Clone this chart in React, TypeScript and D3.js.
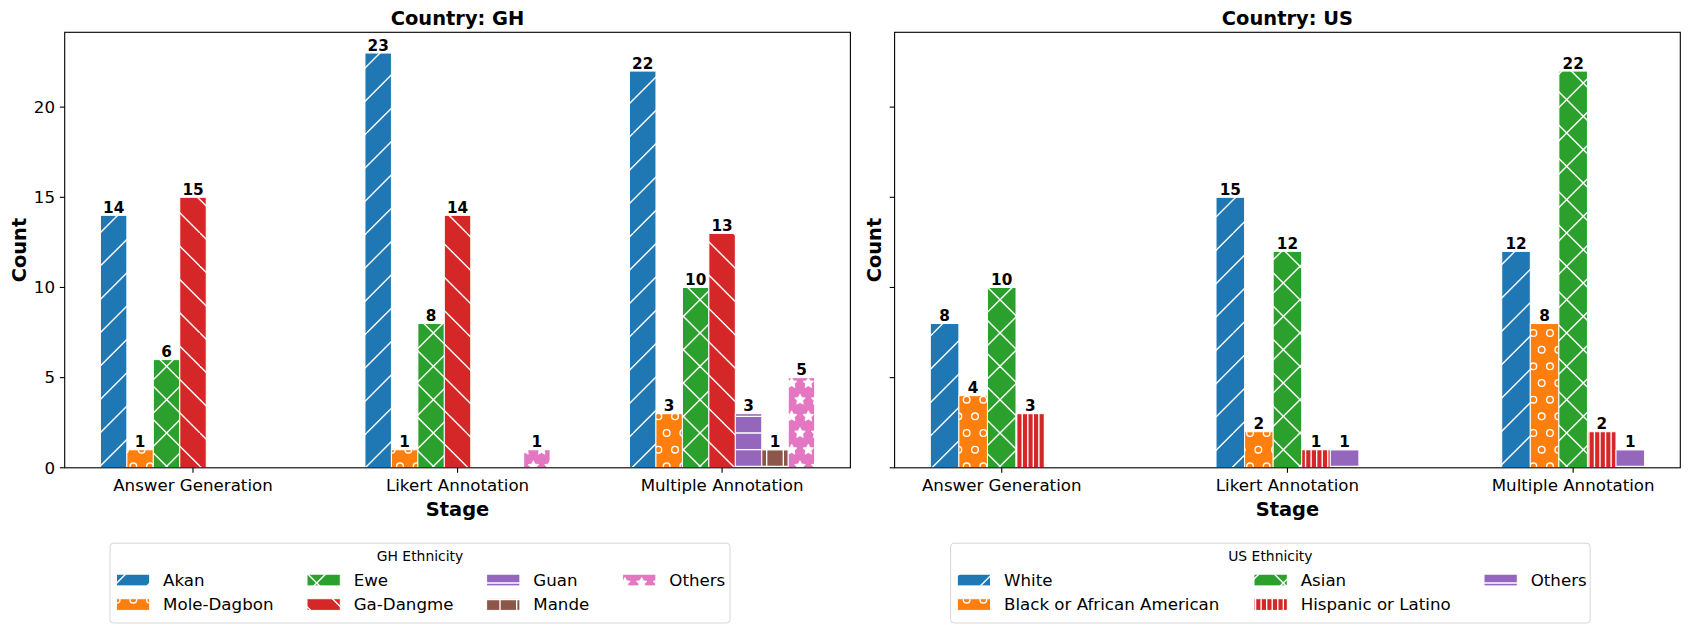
import React from 'react';
import * as d3 from 'd3';

// ---- data ----
const stages = ['Answer Generation', 'Likert Annotation', 'Multiple Annotation'];
const yTicks = [0, 5, 10, 15, 20];

const ghGroups = ['Akan', 'Mole-Dagbon', 'Ewe', 'Ga-Dangme', 'Guan', 'Mande', 'Others'];
const ghAkan = [14, 23, 22];
const ghMoleDagbon = [1, 1, 3];
const ghEwe = [6, 8, 10];
const ghGaDangme = [15, 14, 13];
const ghGuan = [0, 0, 3];
const ghMande = [0, 0, 1];
const ghOthers = [0, 1, 5];
const ghHatches = ['/', 'o', 'x', '\\', '-', '+', '*'];

const usGroups = ['White', 'Black or African American', 'Asian', 'Hispanic or Latino', 'Others'];
const usWhite = [8, 15, 12];
const usBlack = [4, 2, 8];
const usAsian = [10, 12, 22];
const usHispanic = [3, 1, 2];
const usOthers = [0, 1, 1];
const usHatches = ['/', 'o', 'x', '|||', '-'];

const tab10 = ['#1f77b4', '#ff7f0e', '#2ca02c', '#d62728', '#9467bd', '#8c564b', '#e377c2'];

const FONT = 'DejaVu Sans, sans-serif';
const W = 1690;
const H = 633;
const TOP = 32.3;
const BOTTOM = 467.8;
const BAR_W = 0.1;
const HATCH_LW = 1.39;
const FS = 16.67; // 12pt at 100 dpi

const hatchId = (h: string) =>
  'hatch-' + h.split('').map((c) => c.charCodeAt(0)).join('-');

// matplotlib style hatch tiles, 100px = 1 inch, white on transparent
function HatchPattern({ hatch }: { hatch: string }) {
  const els: React.ReactNode[] = [];
  const cnt = (c: string) => hatch.split('').filter((x) => x === c).length;
  const nNE = (cnt('/') + cnt('x')) * 6;
  const nSE = (cnt('\\') + cnt('x')) * 6;
  const nH = (cnt('-') + cnt('+')) * 6;
  const nV = (cnt('|') + cnt('+')) * 6;
  const nO = cnt('o') * 6;
  const nS = cnt('*') * 6;
  const line = (k: string, x1: number, y1: number, x2: number, y2: number) => (
    <line key={k} x1={x1} y1={y1} x2={x2} y2={y2} stroke="#fff" strokeWidth={HATCH_LW} />
  );
  if (nNE) {
    const step = 200 / nNE;
    for (let x0 = -100; x0 <= 100; x0 += step) els.push(line('ne' + x0, x0, 100, x0 + 100, 0));
  }
  if (nSE) {
    const step = 200 / nSE;
    for (let x0 = -100; x0 <= 100; x0 += step) els.push(line('se' + x0, x0, 0, x0 + 100, 100));
  }
  if (nH) {
    for (let i = 0; i <= nH; i++) els.push(line('h' + i, 0, (i * 100) / nH, 100, (i * 100) / nH));
  }
  if (nV) {
    for (let i = 0; i <= nV; i++) els.push(line('v' + i, (i * 100) / nV, 0, (i * 100) / nV, 100));
  }
  const shapes = (n: number, draw: (k: string, cx: number, cy: number) => React.ReactNode) => {
    const off = 100 / n;
    for (let r = 0; r <= n; r++) {
      const cy = r * off;
      if (r % 2 === 0) {
        for (let c = 0; c <= n; c++) els.push(draw(`${r}-${c}`, c * off, cy));
      } else {
        for (let c = 0; c < n; c++) els.push(draw(`${r}-${c}`, off / 2 + c * off, cy));
      }
    }
  };
  if (nO) {
    const rad = (100 / nO) * 0.2;
    shapes(nO, (k, cx, cy) => (
      <circle key={'o' + k} cx={cx} cy={cy} r={rad} fill="none" stroke="#fff" strokeWidth={HATCH_LW} />
    ));
  }
  if (nS) {
    const rad = (100 / nS) / 3;
    const pts: [number, number][] = d3.range(10).map((i) => {
      const a = (Math.PI / 5) * i - Math.PI / 2;
      const rr = i % 2 === 0 ? rad : rad * 0.5;
      return [rr * Math.cos(a), rr * Math.sin(a)];
    });
    shapes(nS, (k, cx, cy) => (
      <polygon
        key={'s' + k}
        points={pts.map(([x, y]) => `${cx + x},${cy + y}`).join(' ')}
        fill="#fff"
        stroke="#fff"
        strokeWidth={HATCH_LW * 0.6}
      />
    ));
  }
  return (
    <pattern id={hatchId(hatch)} patternUnits="userSpaceOnUse" x={0} y={H % 100} width={100} height={100}>
      {els}
    </pattern>
  );
}

interface LegendSpec {
  title: string;
  x: number;
  width: number;
  colX: number[];
  ncol: number;
}

interface PanelProps {
  title: string;
  left: number;
  right: number;
  groups: string[];
  series: number[][];
  colors: string[];
  hatches: string[];
  yLabels: boolean;
  countX: number;
  legend: LegendSpec;
}

function Panel({ title, left, right, groups, series, colors, hatches, yLabels, countX, legend }: PanelProps) {
  const n = groups.length;
  const offs = groups.map((_, i) => (i - (n - 1) / 2) * BAR_W);
  const lo = offs[0] - BAR_W / 2;
  const hi = stages.length - 1 + offs[n - 1] + BAR_W / 2;
  const pad = (hi - lo) * 0.05;
  const x = d3.scaleLinear().domain([lo - pad, hi + pad]).range([left, right]);
  // y axis is shared between both panels: tallest bar is 23
  const y = d3.scaleLinear().domain([0, 23 * 1.05]).range([BOTTOM, TOP]);
  const cx = (left + right) / 2;

  const rows = Math.ceil(n / legend.ncol);
  const legTop = 543.2;
  const legBottom = 623;
  const rowY = [580, 604.5];

  return (
    <g fontFamily={FONT}>
      {/* bars */}
      {series.map((vals, gi) =>
        vals.map((v, si) => {
          if (v <= 0) return null;
          const x0 = x(si + offs[gi] - BAR_W / 2);
          const x1 = x(si + offs[gi] + BAR_W / 2);
          const yt = y(v);
          return (
            <g key={`${gi}-${si}`}>
              <rect x={x0} y={yt} width={x1 - x0} height={BOTTOM - yt} fill={colors[gi]} />
              <rect x={x0} y={yt} width={x1 - x0} height={BOTTOM - yt} fill={`url(#${hatchId(hatches[gi])})`} stroke="#fff" strokeWidth={1} />
              <text
                x={(x0 + x1) / 2}
                y={yt - 2.5}
                textAnchor="middle"
                fontSize={15.28}
                fontWeight="bold"
                fill="#000"
              >
                {v}
              </text>
            </g>
          );
        })
      )}

      {/* frame */}
      <rect x={left} y={TOP} width={right - left} height={BOTTOM - TOP} fill="none" stroke="#000" strokeWidth={1.1} />

      {/* y axis */}
      {yTicks.map((t) => (
        <g key={t}>
          <line x1={left - 4.9} x2={left} y1={y(t)} y2={y(t)} stroke="#000" strokeWidth={1.1} />
          {yLabels && (
            <text x={left - 9.7} y={y(t)} dy="0.35em" textAnchor="end" fontSize={FS} fill="#000">
              {t}
            </text>
          )}
        </g>
      ))}

      {/* x axis */}
      {stages.map((s, i) => (
        <g key={s}>
          <line x1={x(i)} x2={x(i)} y1={BOTTOM} y2={BOTTOM + 4.9} stroke="#000" strokeWidth={1.1} />
          <text x={x(i)} y={BOTTOM + 23.5} textAnchor="middle" fontSize={FS} fill="#000">
            {s}
          </text>
        </g>
      ))}

      <text x={cx} y={515.5} textAnchor="middle" fontSize={19.44} fontWeight="bold">
        Stage
      </text>
      <text
        transform={`translate(${countX},${(TOP + BOTTOM) / 2}) rotate(-90)`}
        textAnchor="middle"
        dy="0.35em"
        fontSize={19.44}
        fontWeight="bold"
      >
        Count
      </text>
      <text x={cx} y={25} textAnchor="middle" fontSize={19.44} fontWeight="bold">
        {title}
      </text>

      {/* legend */}
      <rect
        x={legend.x}
        y={legTop}
        width={legend.width}
        height={legBottom - legTop}
        rx={3.5}
        fill="#fff"
        stroke="#d6d6d6"
        strokeWidth={1}
      />
      <text x={legend.x + legend.width / 2} y={556} dy="0.35em" textAnchor="middle" fontSize={13.9}>
        {legend.title}
      </text>
      {groups.map((g, i) => {
        const col = Math.floor(i / rows);
        const row = i % rows;
        const px = legend.colX[col];
        const py = rowY[row];
        return (
          <g key={g}>
            <rect x={px} y={py - 5.8} width={33.3} height={11.7} fill={colors[i]} />
            <rect x={px} y={py - 5.8} width={33.3} height={11.7} fill={`url(#${hatchId(hatches[i])})`} stroke="#fff" strokeWidth={1} />
            <text x={px + 46.7} y={py} dy="0.35em" fontSize={FS}>
              {g}
            </text>
          </g>
        );
      })}
    </g>
  );
}

export default function App() {
  const ghSeries = [ghAkan, ghMoleDagbon, ghEwe, ghGaDangme, ghGuan, ghMande, ghOthers];
  const usSeries = [usWhite, usBlack, usAsian, usHispanic, usOthers];
  const allHatches = Array.from(new Set([...ghHatches, ...usHatches]));

  return (
    <svg
      width={W}
      height={H}
      style={{ position: 'absolute', left: 0, top: 0, background: '#fff' }}
    >
      <defs>
        {allHatches.map((h) => (
          <HatchPattern key={h} hatch={h} />
        ))}
      </defs>
      <rect width={W} height={H} fill="#fff" />
      <Panel
        title="Country: GH"
        left={64.7}
        right={850.4}
        groups={ghGroups}
        series={ghSeries}
        colors={tab10}
        hatches={ghHatches}
        yLabels
        countX={19.4}
        legend={{ title: 'GH Ethnicity', x: 110, width: 620, colX: [116.4, 307, 486.6, 622.6], ncol: 4 }}
      />
      <Panel
        title="Country: US"
        left={894.6}
        right={1680.3}
        groups={usGroups}
        series={usSeries}
        colors={tab10}
        hatches={usHatches}
        yLabels={false}
        countX={874}
        legend={{ title: 'US Ethnicity', x: 950.6, width: 639.5, colX: [957.3, 1254, 1484], ncol: 3 }}
      />
    </svg>
  );
}
